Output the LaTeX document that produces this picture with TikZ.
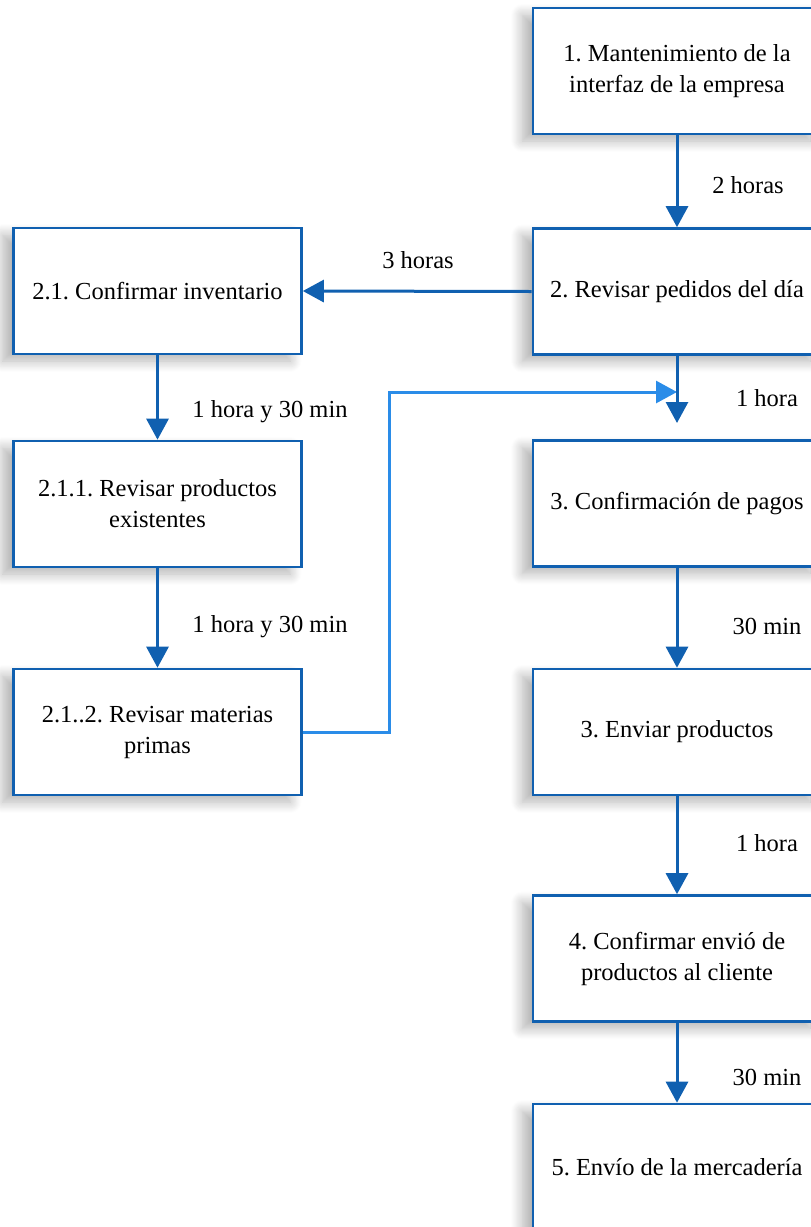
\documentclass[tikz,border=0pt]{standalone}
\usepackage{fontspec}
\setmainfont{Liberation Serif}
\usetikzlibrary{arrows.meta,shadows.blur}
\definecolor{azul}{RGB}{16,96,176}
\definecolor{celeste}{RGB}{42,140,232}
\frenchspacing

\begin{document}
\begin{tikzpicture}[x=1pt, y=-1pt, >={Triangle[length=21pt,width=22pt]},
    caja/.style={draw=azul, line width=2.6pt, fill=white, minimum width=288pt, minimum height=126pt,
        align=center, inner sep=0pt, font=\fontsize{24.5}{31}\selectfont,
        blur shadow={shadow xshift=-11pt, shadow yshift=-7pt, shadow opacity=30,
            shadow blur radius=11pt, shadow blur steps=12}},
    flecha/.style={->, azul, line width=3pt},
    enlace/.style={->, celeste, line width=3pt},
    tiempo/.style={font=\fontsize{24.5}{31}\selectfont}]
        \useasboundingbox (0,0) rectangle (811,1227);

        % Proceso principal
        \node[caja] (p1) at (677,71) {1. Mantenimiento de la\\interfaz de la empresa};
        \node[caja] (p2) at (677,291.5) {2. Revisar pedidos del día};
        \node[caja] (p3) at (677,503.5) {3. Confirmación de pagos};
        \node[caja] (p4) at (677,732) {3. Enviar productos};
        \node[caja] (p5) at (677,958.5) {4. Confirmar envió de\\productos al cliente};
        \node[caja] (p6) at (677,1167) {5. Envío de la mercadería};

        % Rama del inventario
        \node[caja] (s1) at (157.5,291) {2.1. Confirmar inventario};
        \node[caja] (s2) at (157.5,504) {2.1.1. Revisar productos\\existentes};
        \node[caja] (s3) at (157.5,732) {2.1..2. Revisar materias\\primas};

        % Regreso de la rama al proceso principal
        \coordinate (codo) at (389,392);
        \coordinate (union) at (677,392);
        \draw[enlace] (s3.east) -| (codo) -- (union);

        % Flechas con tiempos
        \coordinate (llegada) at (677,423);
        \draw[flecha] (p1.south) -- (p2.north);
        \draw[flecha] (p2.south) -- (llegada);
        \draw[flecha] (p3.south) -- (p4.north);
        \draw[flecha] (p4.south) -- (p5.north);
        \draw[flecha] (p5.south) -- (p6.north);
        \draw[flecha] (p2.west) -- (s1.east);
        \draw[flecha] (s1.south) -- (s2.north);
        \draw[flecha] (s2.south) -- (s3.north);

        \node[tiempo] (t1) at (748,185) {2 horas};
        \node[tiempo] (t2) at (767,398) {1 hora};
        \node[tiempo] (t3) at (767,626) {30 min};
        \node[tiempo] (t4) at (767,843) {1 hora};
        \node[tiempo] (t5) at (767,1077) {30 min};
        \node[tiempo] (t6) at (418,260) {3 horas};
        \node[tiempo] (t7) at (270,412) {1 hora y 30 min};
        \node[tiempo] (t8) at (270,627) {1 hora y 30 min};

    \end{tikzpicture}
\end{document}
